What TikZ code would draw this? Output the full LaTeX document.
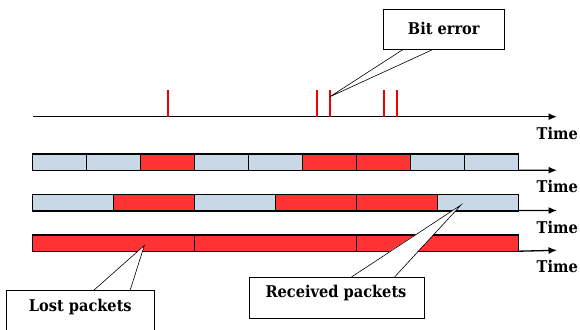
\documentclass[tikz,border=0pt]{standalone}
\usepackage{fontspec}
\newfontfamily\lblfont{DejaVu Serif Condensed}[BoldFont={DejaVu Serif Condensed Bold}]
\usetikzlibrary{arrows.meta}
\definecolor{pktred}{HTML}{FF3333}
\definecolor{pktblue}{HTML}{C8D8E6}
\definecolor{tickred}{HTML}{F00000}
\tikzset{
  cell/.style={draw=black, line width=1.4pt, inner sep=0pt, outer sep=0pt, minimum height=16.7pt, anchor=north west},
  arr/.style={line width=1.3pt, -{Latex[length=8.5pt,width=7pt]}},
  errtick/.style={draw=tickred, line width=2.2pt},
  callbox/.style={draw=black, fill=white, line width=0.6pt, inner sep=0pt, outer sep=0pt, anchor=north west},
  lbl/.style={font=\lblfont\bfseries\fontsize{16.2}{19}\selectfont, inner sep=0pt},
  ptr/.style={draw=black, line width=0.6pt},
}
\begin{document}
\begin{tikzpicture}[x=1pt,y=-1pt]
\useasboundingbox (0,0) rectangle (580,329);
\clip (0,0) rectangle (580,329);
% top time axis with bit errors
\coordinate (t0) at (33,116.7);
\coordinate (t1) at (557,116.7);
\draw[arr] (t0) -- (t1);
\node[lbl, anchor=west] (time0) at (536.5,133) {Time};
\coordinate (e1) at (168.3,90);
\coordinate (e2) at (316.7,90);
\coordinate (e3) at (330,90);
\coordinate (e4) at (383.7,90);
\coordinate (e5) at (397,90);
\foreach \e in {e1,e2,e3,e4,e5}
  \draw[errtick] (\e) -- (\e |- t0);
% row 1
\foreach \i/\c in {1/pktblue,2/pktblue,3/pktred,4/pktblue,5/pktblue,6/pktred,7/pktred,8/pktblue,9/pktblue}
  \node[cell, fill=\c, minimum width=53.96pt] (a\i) at ({32.7+(\i-1)*53.96},154) {};
\coordinate (aend) at (557,170.2);
\draw[arr] (a9.south east) ++(0,-0.5) -- (aend);
\node[lbl, anchor=west] (time1) at (536.5,186.7) {Time};
% row 2
\foreach \i/\c in {1/pktblue,2/pktred,3/pktblue,4/pktred,5/pktred,6/pktblue}
  \node[cell, fill=\c, minimum width=80.93pt] (b\i) at ({32.7+(\i-1)*80.93},194.3) {};
\coordinate (bend) at (557,210.5);
\draw[arr] (b6.south east) ++(0,-0.5) -- (bend);
\node[lbl, anchor=west] (time2) at (536.5,227.3) {Time};
% row 3
\foreach \i in {1,2,3}
  \node[cell, fill=pktred, minimum width=161.87pt] (c\i) at ({32.7+(\i-1)*161.87},235) {};
\coordinate (cend) at (557,250.3);
\draw[arr] (c3.south east) ++(0,-0.5) -- (cend);
\node[lbl, anchor=west] (time3) at (536.5,266.7) {Time};
% callout: Bit error
\node[callbox, minimum width=121pt, minimum height=40pt] (bitbox) at (383.3,9.3) {};
\node[lbl] (bit) at (443.8,28.3) {Bit error};
\coordinate (bitb1) at (403.3,49.3);
\coordinate (bitb2) at (433.3,49.3);
\coordinate (bittip) at (330,96.7);
\fill[white] ([yshift=-0.8pt]bitb1) -- (bittip) -- ([yshift=-0.8pt]bitb2) -- cycle;
\draw[ptr] (bitb1) -- (bittip) -- (bitb2);
% callout: Lost packets
\node[callbox, minimum width=147.3pt, minimum height=50pt] (lostbox) at (6.7,290.7) {};
\node[lbl] (lost) at (80.3,307) {Lost packets};
\coordinate (lostb1) at (93.3,290.7);
\coordinate (lostb2) at (130,290.7);
\coordinate (losttip) at (144.3,245.5);
\fill[white] ([yshift=0.8pt]lostb1) -- (losttip) -- ([yshift=0.8pt]lostb2) -- cycle;
\draw[ptr] (lostb1) -- (losttip) -- (lostb2);
% callout: Received packets
\node[callbox, minimum width=175pt, minimum height=41pt] (recbox) at (249,277.3) {};
\node[lbl] (rec) at (336,293.5) {Received packets};
\coordinate (recb1) at (351,277.3);
\coordinate (recb2) at (394.3,277.3);
\coordinate (rectip) at (461,205);
\fill[white] ([yshift=0.8pt]recb1) -- (rectip) -- ([yshift=0.8pt]recb2) -- cycle;
\draw[ptr] (recb1) -- (rectip) -- (recb2);
\end{tikzpicture}
\end{document}
